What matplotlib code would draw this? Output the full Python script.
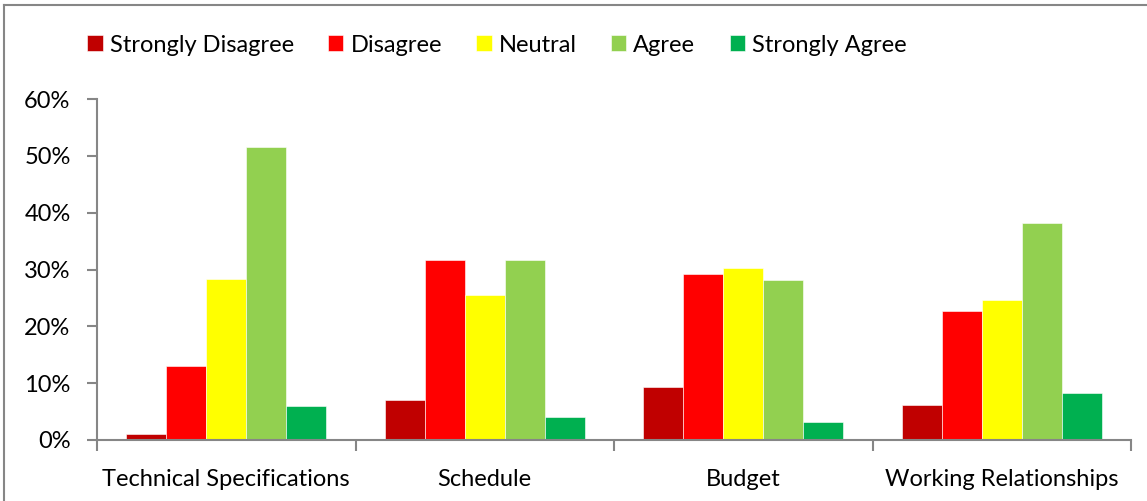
import numpy as np
import matplotlib
matplotlib.use("Agg")
import matplotlib.pyplot as plt
from matplotlib.ticker import PercentFormatter

plt.rcParams['font.family'] = ['Lato', 'DejaVu Sans']

# data
categories = ["Technical Specifications", "Schedule", "Budget", "Working Relationships"]
series_names = ["Strongly Disagree", "Disagree", "Neutral", "Agree", "Strongly Agree"]
strongly_disagree = [0.010, 0.070, 0.094, 0.062]
disagree = [0.131, 0.317, 0.292, 0.227]
neutral = [0.283, 0.255, 0.302, 0.246]
agree = [0.515, 0.317, 0.282, 0.381]
strongly_agree = [0.060, 0.041, 0.031, 0.082]
colors = ["#C00000", "#FF0000", "#FFFF00", "#92D050", "#00B050"]

series = [strongly_disagree, disagree, neutral, agree, strongly_agree]

fig = plt.figure(figsize=(11.47, 5.01), dpi=100)
ax = fig.add_axes([97 / 1147, 61 / 501, 1034 / 1147, 341 / 501])

x = np.arange(len(categories)) + 0.5
w = 0.155
for i, (name, vals, c) in enumerate(zip(series_names, series, colors)):
    ax.bar(x + (i - 2) * w, vals, width=w, color=c, label=name,
           edgecolor="white", linewidth=0.4)

ax.set_xlim(0, len(categories))
ax.set_ylim(0, 0.6)
ax.set_yticks(np.arange(0, 0.61, 0.1))
ax.yaxis.set_major_formatter(PercentFormatter(1.0, decimals=0))

ax.set_xticks(x)
ax.set_xticklabels(categories)
ax.set_xticks(np.arange(0, len(categories) + 1), minor=True)
ax.tick_params(axis="x", which="major", length=0, pad=21, labelsize=17)
ax.tick_params(axis="x", which="minor", length=8, width=1.5, color="#868686")
ax.tick_params(axis="y", length=7, width=1.5, color="#868686", labelsize=17, pad=12)

for s in ["top", "right"]:
    ax.spines[s].set_visible(False)
for s in ["left", "bottom"]:
    ax.spines[s].set_color("#868686")
    ax.spines[s].set_linewidth(1.5)

leg = fig.legend(loc="center left", bbox_to_anchor=(66 / 1147, 1 - 45 / 501),
                 ncol=5, frameon=False, fontsize=17, handlelength=0.65,
                 handleheight=0.65, handletextpad=0.3, columnspacing=1.45)

# outer chart-area border (clipped at right and bottom)
fig.add_artist(plt.Line2D([4 / 1147, 4 / 1147], [0, 1 - 5 / 501],
                          transform=fig.transFigure, color="#868686", linewidth=1.5))
fig.add_artist(plt.Line2D([4 / 1147, 1], [1 - 5 / 501, 1 - 5 / 501],
                          transform=fig.transFigure, color="#868686", linewidth=1.5))

fig.savefig("out.png", dpi=100)
